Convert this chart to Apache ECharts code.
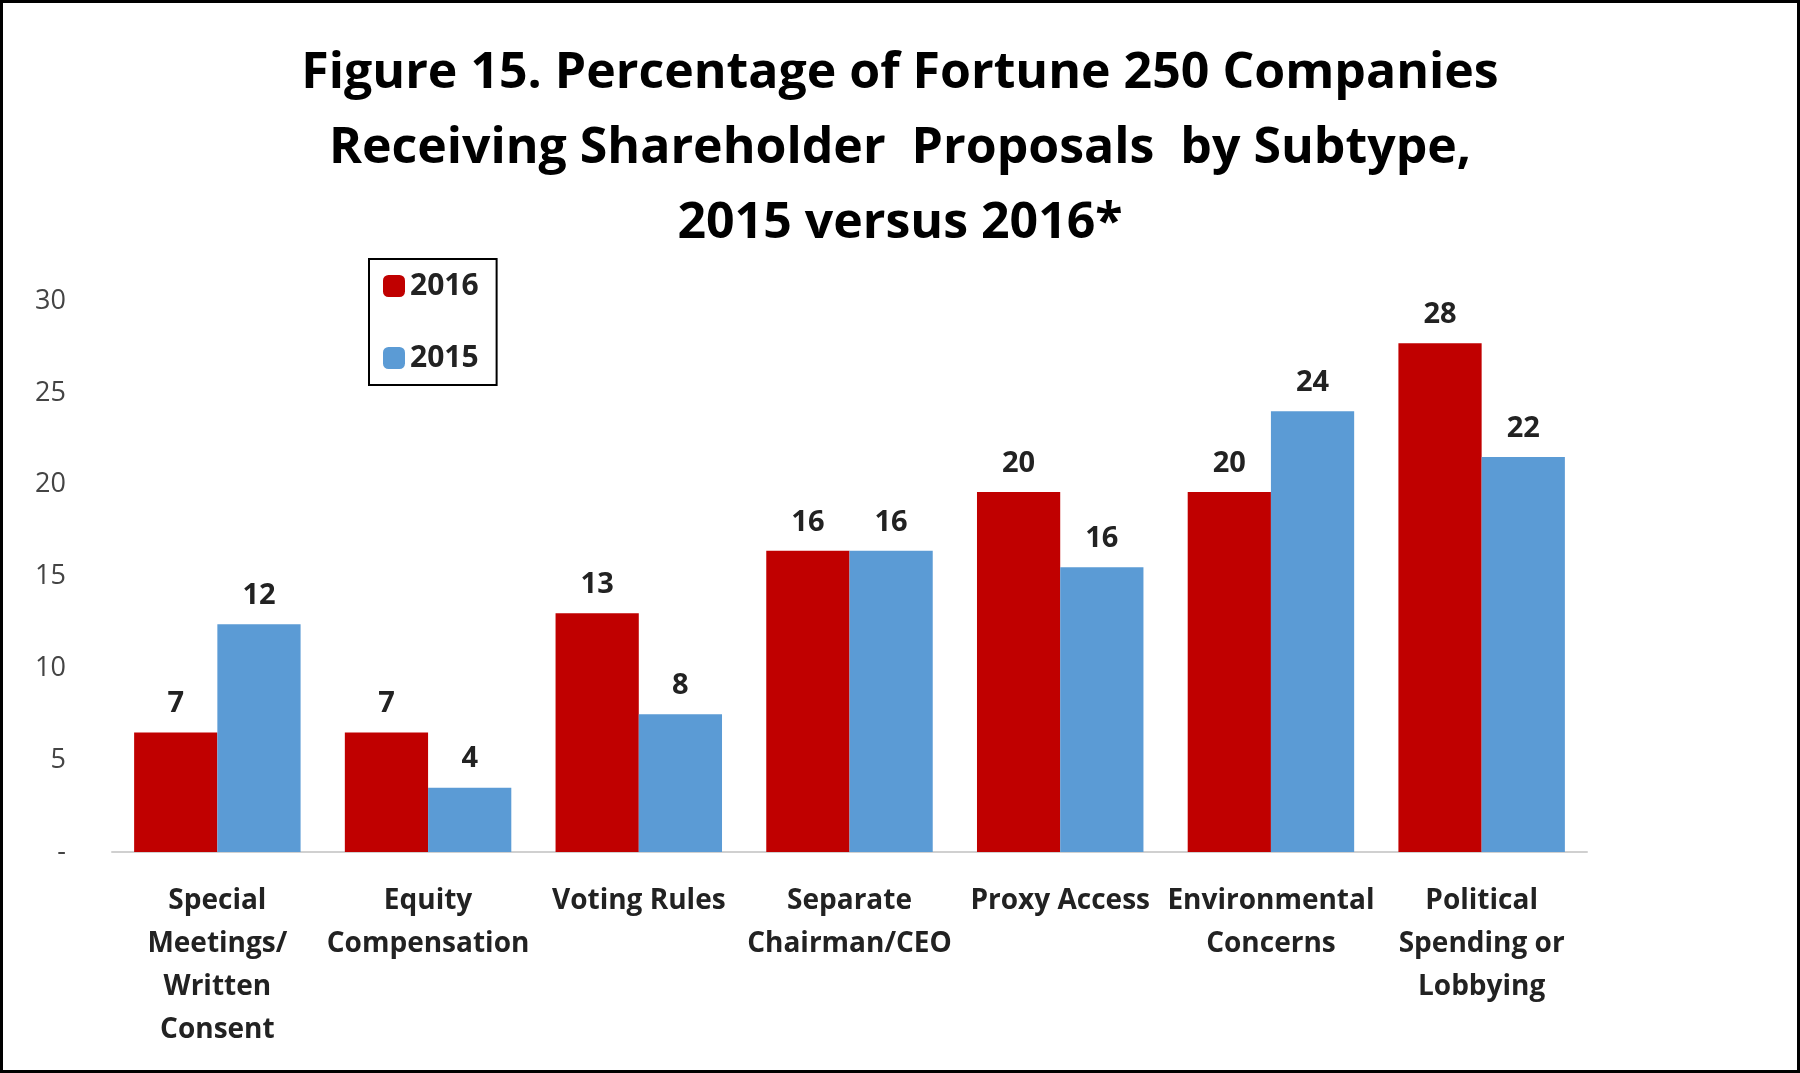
<!DOCTYPE html>
<html><head><meta charset="utf-8">
<script src="https://cdn.jsdelivr.net/npm/echarts@6/dist/echarts.min.js"></script>
<style>html,body{margin:0;padding:0;background:#fff}#c{width:1800px;height:1073px;box-sizing:border-box;border:3px solid #000}</style>
</head><body><div id="c"></div>
<script>
const categories = ['Special\nMeetings/\nWritten\nConsent', 'Equity\nCompensation', 'Voting Rules', 'Separate\nChairman/CEO', 'Proxy Access', 'Environmental\nConcerns', 'Political\nSpending or\nLobbying'];
const values2016 = [6.5, 6.5, 13.0, 16.4, 19.6, 19.6, 27.7];
const values2015 = [12.4, 3.5, 7.5, 16.4, 15.5, 24.0, 21.5];
const yTicks = [0, 5, 10, 15, 20, 25, 30];

const font = '"Open Sans", "Liberation Sans", sans-serif';
let chart = echarts.init(document.getElementById('c'));
let label = {
  show: true, position: 'top', distance: 14, fontFamily: font, fontWeight: 'bold',
  fontSize: 29, color: '#222', formatter: p => Math.round(p.value)
};
let option = {
  title: {
    text: 'Figure 15. Percentage of Fortune 250 Companies\nReceiving Shareholder  Proposals  by Subtype,\n2015 versus 2016*',
    left: 'center', top: 28,
    textStyle: {fontFamily: font, fontWeight: 'bold', fontSize: 50, lineHeight: 75, color: '#000'}
  },
  legend: {
    data: ['2016', '2015'], orient: 'vertical', left: 366, top: 256,
    itemWidth: 22, itemHeight: 22, itemGap: 42, padding: [12, 18, 12, 14],
    borderColor: '#000', borderWidth: 2,
    textStyle: {fontFamily: font, fontSize: 30, fontWeight: 'bold', color: '#222'}
  },
  grid: {left: 109, right: 210, top: 298, bottom: 218},
  xAxis: {
    type: 'category', data: categories,
    axisLine: {lineStyle: {color: '#d0d0d0', width: 2}}, axisTick: {show: false},
    axisLabel: {interval: 0, fontFamily: font, fontWeight: 'bold', fontSize: 28, lineHeight: 43, color: '#222', margin: 28}
  },
  yAxis: {
    type: 'value', min: 0, max: 30, interval: 5,
    splitLine: {show: false}, axisLine: {show: false}, axisTick: {show: false},
    axisLabel: {fontFamily: font, fontSize: 27, color: '#444', margin: 46,
      formatter: v => yTicks.includes(v) ? (v === 0 ? '-' : String(v)) : ''}
  },
  series: [
    {name: '2016', type: 'bar', data: values2016, itemStyle: {color: '#C00000'}, barGap: '0%', barCategoryGap: '21%', label: label},
    {name: '2015', type: 'bar', data: values2015, itemStyle: {color: '#5B9BD5'}, label: label}
  ]
};
chart.setOption(option);
</script></body></html>
